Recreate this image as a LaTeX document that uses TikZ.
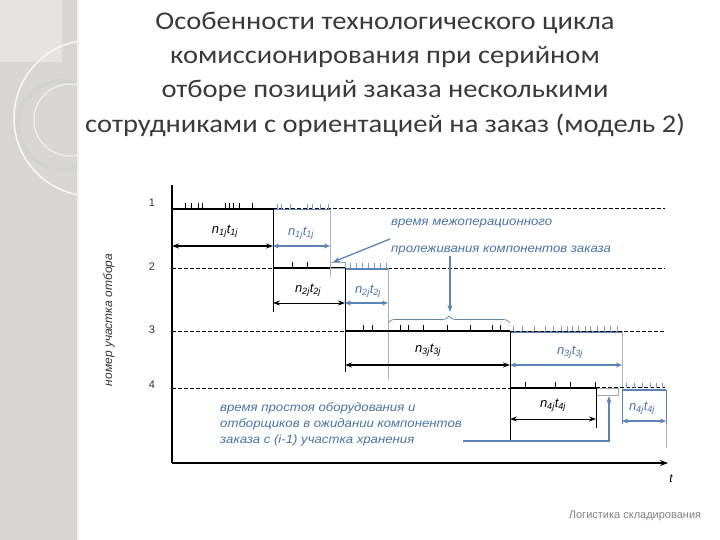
\documentclass[tikz,border=0pt]{standalone}
\usepackage{fontspec}
\setmainfont{Carlito}[FakeStretch=1.12]
\newfontfamily\labfont{Liberation Sans}
\newfontfamily\notefont{Liberation Sans}[FakeStretch=1.1]
\usetikzlibrary{arrows.meta,decorations.pathreplacing}
\definecolor{stripgray}{HTML}{D8D6D2}
\definecolor{striplight}{HTML}{E6E4E0}
\definecolor{lineblue}{HTML}{5B84B5}
\definecolor{textblue}{HTML}{4A72A6}
\definecolor{titlegray}{HTML}{3A3A3A}
\newcommand{\nt}[1]{{\labfont\itshape n\textsubscript{#1}t\textsubscript{#1}}}
\begin{document}
\begin{tikzpicture}[x=1pt,y=-1pt,
  rowline/.style={line width=0.7pt, dash pattern=on 3.5pt off 2.5pt},
  thickseg/.style={line width=1.8pt},
  blueseg/.style={line width=1.6pt, draw=lineblue},
  thinv/.style={line width=0.6pt},
  grayv/.style={line width=0.6pt, draw=gray!60},
  tickb/.style={line width=0.5pt},
  tickl/.style={line width=0.5pt, draw=lineblue!80},
  darr/.style={{Stealth[length=7pt,width=5pt]}-{Stealth[length=7pt,width=5pt]}, line width=1.6pt},
  darrthin/.style={{Stealth[length=7pt,width=5pt]}-{Stealth[length=7pt,width=5pt]}, line width=0.9pt},
  barr/.style={{Stealth[length=6pt,width=5pt]}-{Stealth[length=6pt,width=5pt]}, line width=1.1pt, draw=lineblue},
  ptr/.style={-{Stealth[length=7pt,width=5pt]}, line width=1.3pt, draw=lineblue},
  nlab/.style={font=\fontsize{13}{13}\selectfont},
  bnlab/.style={font=\fontsize{13}{13}\selectfont, text=textblue},
  note/.style={font=\notefont\itshape\fontsize{12}{16}\selectfont, text=textblue, align=left, inner sep=0pt},
  rownum/.style={font=\labfont\fontsize{11}{11}\selectfont, text=black!80},
  titleline/.style={font=\fontsize{25.5}{25.5}\selectfont, text=titlegray}
]
\useasboundingbox (0,0) rectangle (720,540);
% decorative strip
\fill[stripgray] (0,0) rectangle (78,540);
\fill[striplight] (0,0) rectangle (62,62);
\begin{scope}
\clip (0,0) rectangle (78,540);
\draw[white!80!stripgray, line width=1.5pt] (92,118) circle (78);
\draw[gray!35, line width=4pt] (62,125) circle (44);
\draw[white!70!stripgray, line width=1pt] (70,120) circle (36);
\end{scope}
\draw[white!60!stripgray, line width=1.5pt] (78,0) -- (78,540);

% title
\node[titleline] (t1) at (385,23) {Особенности технологического цикла};
\node[titleline] (t2) at (385,57) {комиссионирования при серийном};
\node[titleline] (t3) at (385,91) {отборе позиций заказа несколькими};
\node[titleline] (t4) at (385,125) {сотрудниками с ориентацией на заказ (модель 2)};

% axes
\coordinate (ytop) at (172,185);
\coordinate (orig) at (172,463);
\coordinate (xend) at (668,463);
\draw[line width=2pt] (ytop) -- (orig);
\draw[line width=2pt, -{Stealth[length=8pt,width=6pt]}] (orig) -- (xend);
\node[font=\labfont\itshape\fontsize{12}{12}\selectfont] (tlab) at (671,479) {t};
\node[font=\labfont\itshape\fontsize{12}{12}\selectfont, rotate=90, text=black!80] (ylab) at (109,320) {номер участка отбора};

% row numbers
\node[rownum] (r1) at (152,203) {1};
\node[rownum] (r2) at (152,267) {2};
\node[rownum] (r3) at (152,330) {3};
\node[rownum] (r4) at (152,385) {4};

% ---------- row 1 ----------
\draw[thickseg] (172,209) -- (273,209);
\draw[blueseg] (273,209.5) -- (330,209.5);
\draw[rowline] (273,208.5) -- (665,208.5);
\foreach \x in {185,191,198,202,225,229,233,239,252} \draw[tickb] (\x,209) -- (\x,203);
\foreach \x in {277,281,290,307,312,320,328} \draw[tickl] (\x,209) -- (\x,204);
\draw[thinv] (273,209) -- (273,312);
\draw[grayv] (330,209) -- (330,277);
\draw[darr] (172,246) -- (273,246);
\draw[barr] (273,246) -- (330,246);
\node[nlab] (l1) at (225,231) {\nt{1j}};
\node[bnlab] (b1) at (301,233) {\nt{1j}};

% ---------- row 2 ----------
\draw[rowline] (172,268) -- (273,268);
\draw[thickseg] (273,268) -- (345,268);
\draw[blueseg] (345,269) -- (388,269);
\draw[rowline] (388,268) -- (665,268);
\foreach \x in {292,307,330} \draw[tickb] (\x,268) -- (\x,262);
\foreach \x in {350,356,362,368,374,380,386} \draw[tickl] (\x,268) -- (\x,263);
\draw[gray!70, line width=0.5pt] (330,262) rectangle (345,268);
\draw[thinv] (345,268) -- (345,372);
\draw[grayv] (388,268) -- (388,380);
\draw[darrthin] (273,303) -- (345,303);
\draw[barr] (345,303) -- (388,303);
\node[nlab] (l2) at (308,290) {\nt{2j}};
\node[bnlab] (b2) at (368,291) {\nt{2j}};

% ---------- row 3 ----------
\draw[rowline] (172,331) -- (345,331);
\draw[thickseg] (345,331) -- (510,331);
\draw[blueseg] (510,332) -- (622,332);
\draw[rowline] (510,331) -- (665,331);
\foreach \x in {363,372,400,408,423,447,470,492,500} \draw[tickb] (\x,331) -- (\x,325);
\foreach \x in {513,522,534,545,553,561,567,572,578,585,590,597,604,610,617} \draw[tickl] (\x,331) -- (\x,326);
\draw[thinv] (510,331) -- (510,440);
\draw[grayv] (622,331) -- (622,395);
\draw[darr] (345,365) -- (510,365);
\draw[barr] (510,365) -- (622,365);
\node[nlab] (l3) at (428,350) {\nt{3j}};
\node[bnlab] (b3) at (570,352) {\nt{3j}};
\draw[decorate, decoration={brace, amplitude=7pt}, line width=0.7pt, draw=lineblue!80!gray] (388,323) -- (510,323);

% ---------- row 4 ----------
\draw[rowline] (172,388) -- (510,388);
\draw[thickseg] (510,388) -- (596,388);
\draw[rowline] (596,387) -- (665,387);
\draw[blueseg] (622,390) -- (666,390);
\foreach \x in {525,555,570,595} \draw[tickb] (\x,388) -- (\x,382);
\foreach \x in {626,634,642,650,656,662} \draw[tickl] (\x,388) -- (\x,383);
\draw[gray!70, line width=0.5pt] (596,388) rectangle (618,395);
\draw[thinv] (596,388) -- (596,428);
\draw[lineblue, line width=0.7pt] (622,390) -- (622,424) (666,390) -- (666,424);
\draw[grayv] (666,424) -- (666,448);
\draw[darrthin] (510,419) -- (596,419);
\draw[barr] (622,421) -- (666,421);
\node[nlab] (l4) at (553,405) {\nt{4j}};
\node[bnlab] (b4) at (642,408) {\nt{4j}};

% ---------- notes ----------
\node[note, anchor=west] (n1a) at (391,224) {время межоперационного};
\node[note, anchor=west] (n1b) at (391,251) {пролеживания компонентов заказа};
\node[note, anchor=north west] (n2) at (220,402) {время простоя оборудования и\\отборщиков в ожидании компонентов\\заказа с (i-1) участка хранения};
\coordinate (p1s) at (390,239);
\coordinate (p1e) at (333,262);
\draw[ptr] (p1s) -- (p1e);
\coordinate (p2s) at (450,256);
\coordinate (p2e) at (450,312);
\draw[ptr] (p2s) -- (p2e);
\coordinate (p3a) at (463,441);
\coordinate (p3b) at (609,441);
\coordinate (p3c) at (609,396);
\draw[ptr] (p3a) -- (p3b) -- (p3c);

% footer
\node[font=\labfont\fontsize{11}{11}\selectfont, text=gray] (foot) at (635,516) {Логистика складирования};
\end{tikzpicture}
\end{document}
